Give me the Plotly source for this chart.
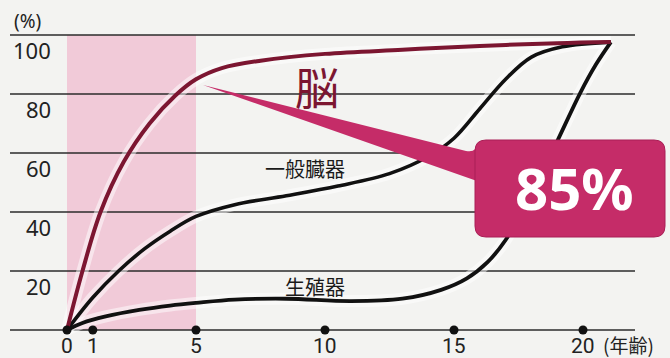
import plotly.graph_objects as go

# Scammon-style growth curves: % of size reached by age (years)
brain_age = [0, 0.6, 1.3, 2.2, 3.2, 4.2, 5, 6, 7.5, 10, 13, 16, 19, 21.08]
brain_pct = [0, 20, 40, 57, 70, 79.5, 85, 88.8, 91.3, 93.6, 95, 96.3, 97.2, 97.6]

general_age = [0, 1, 2, 3, 4, 5, 6.5, 8.5, 10.5, 12.5, 14, 15, 16, 17, 18, 19.2, 21.08]
general_pct = [0, 11, 20, 27.5, 33.5, 38.5, 42.5, 45.5, 48.8, 53, 58.8, 65, 75, 85, 92.5, 96, 97.6]

repro_age = [0, 0.6, 1.5, 2.8, 4, 5, 6.5, 8.5, 11, 13, 14.5, 15.5, 16.3, 17, 18, 19, 19.9, 20.5, 21.08]
repro_pct = [0, 2.4, 4.6, 6.8, 8.3, 9.2, 10.3, 10.6, 9.8, 10.6, 13.6, 17.5, 23, 30.5, 46, 64, 80.5, 90, 97.6]

x_ticks = [0, 1, 5, 10, 15, 20]
x_tick_text = ["0", "1", "5", "10", "15", "20"]
y_grid = [0, 20, 40, 60, 80, 100]
y_tick_text = ["", "20", "40", "60", "80", "100"]

highlight_age = (0, 5)        # shaded infancy band
brain_at_5 = 85               # value called out in the tag

W, H = 670, 358
# axis ranges chosen so 1 year = 25.8 px and 1 % = 2.95 px
X0, X1 = -67 / 25.8, (W - 67) / 25.8
Y0, Y1 = (330 - H) / 2.95, 330 / 2.95


def ax(xp):
    return (xp - 67) / 25.8


def ay(yp):
    return (330 - yp) / 2.95


BRAIN = "#7c1631"
TAG = "#c52c68"
JP = "Noto Sans CJK JP"
NUM = "Noto Sans"
SPL = dict(shape="spline", smoothing=1.0)

fig = go.Figure()

# soft white halo under each curve
for xs, ys in [(general_age, general_pct), (repro_age, repro_pct), (brain_age, brain_pct)]:
    fig.add_trace(go.Scatter(x=xs, y=ys, mode="lines",
                             line=dict(color="rgba(255,255,255,0.5)", width=12, **SPL),
                             hoverinfo="skip"))

fig.add_trace(go.Scatter(x=general_age, y=general_pct, mode="lines",
                         line=dict(color="#111111", width=3.6, **SPL)))
fig.add_trace(go.Scatter(x=repro_age, y=repro_pct, mode="lines",
                         line=dict(color="#111111", width=3.8, **SPL)))
fig.add_trace(go.Scatter(x=brain_age, y=brain_pct, mode="lines",
                         line=dict(color=BRAIN, width=4, **SPL)))

# age markers on the baseline
fig.add_trace(go.Scatter(x=x_ticks, y=[0] * len(x_ticks), mode="markers",
                         marker=dict(color="#111111", size=9)))

shapes = []
shapes.append(dict(type="rect", layer="below", xref="x", yref="y",
                   x0=highlight_age[0], x1=highlight_age[1], y0=0, y1=100,
                   fillcolor="#f1cad8", line=dict(width=0)))
for v in y_grid:
    shapes.append(dict(type="line", layer="below", xref="x", yref="y",
                       x0=ax(10), x1=ax(635), y0=v, y1=v,
                       line=dict(color="#2b2b2b", width=1.4)))

# callout pointer + rounded tag
tip = (ax(203), ay(85))
wedge = (f"M {tip[0]},{tip[1]} L {ax(466)},{ay(151)} Q {ax(477)},{ay(153)} {ax(477)},{ay(143)} "
         f"L {ax(477)},{ay(181)} Z")
shapes.append(dict(type="path", layer="above", xref="x", yref="y", path=wedge,
                   fillcolor=TAG, line=dict(width=0)))

bx0, bx1, by0, by1 = ax(475), ax(665), ay(237), ay(140)
rx, ry = 11 / 25.8, 11 / 2.95
box = (f"M {bx0+rx},{by1} L {bx1-rx},{by1} Q {bx1},{by1} {bx1},{by1-ry} "
       f"L {bx1},{by0+ry} Q {bx1},{by0} {bx1-rx},{by0} L {bx0+rx},{by0} "
       f"Q {bx0},{by0} {bx0},{by0+ry} L {bx0},{by1-ry} Q {bx0},{by1} {bx0+rx},{by1} Z")
shapes.append(dict(type="path", layer="above", xref="x", yref="y", path=box,
                   fillcolor=TAG, line=dict(color="#a91f56", width=1)))

ann = []
# y tick labels sit just under their gridline
for v, t in zip(y_grid, y_tick_text):
    if t:
        ann.append(dict(x=ax(53), y=v - 15 / 2.95, text=t, xanchor="right", yanchor="middle",
                        showarrow=False, font=dict(family=NUM, size=22, color="#222222")))
ann.append(dict(x=ax(12), y=ay(21), text="(%)", xanchor="left", yanchor="middle",
                showarrow=False, font=dict(family=NUM, size=19, color="#222222")))
for a, t in zip(x_ticks, x_tick_text):
    ann.append(dict(x=a, y=ay(345.7), text=t, xanchor="center", yanchor="middle",
                    showarrow=False, font=dict(family="Roboto", size=21, color="#222222")))
ann.append(dict(x=ax(601), y=ay(344), text="(年齢)", xanchor="left", yanchor="middle",
                showarrow=False, font=dict(family=JP, size=19, color="#222222")))

ann.append(dict(x=ax(317), y=ay(86), text="脳", showarrow=False,
                font=dict(family=JP, size=44, color=BRAIN)))
ann.append(dict(x=ax(305), y=ay(168), text="一般臓器", showarrow=False,
                font=dict(family=JP, size=20, color="#1a1a1a")))
ann.append(dict(x=ax(315), y=ay(286), text="生殖器", showarrow=False,
                font=dict(family=JP, size=20, color="#1a1a1a")))
ann.append(dict(x=ax(574), y=ay(187), text=f"<b>{brain_at_5}%</b>", showarrow=False,
                font=dict(family=NUM, size=58, color="white")))

fig.update_layout(
    width=W, height=H, margin=dict(l=0, r=0, t=0, b=0),
    paper_bgcolor="#f3f3f1", plot_bgcolor="#f3f3f1",
    showlegend=False,
    xaxis=dict(range=[X0, X1], visible=False, fixedrange=True),
    yaxis=dict(range=[Y0, Y1], visible=False, fixedrange=True),
    shapes=shapes, annotations=ann,
)

fig.write_html("out.html")
